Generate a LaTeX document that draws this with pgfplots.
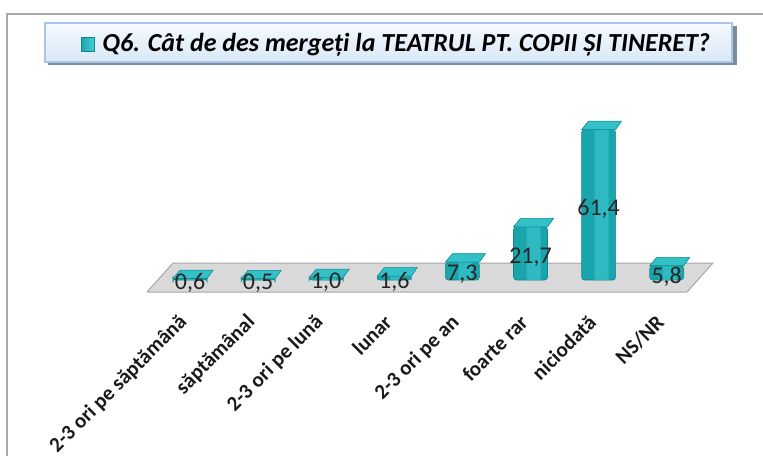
\documentclass[border=0pt]{standalone}
\usepackage{pgfplots}
\pgfplotsset{compat=1.18}
\usepackage{pgfplotstable}
\usepackage{fontspec}
\setmainfont{Carlito}
\definecolor{tealA}{HTML}{1AA5AC}
\definecolor{tealB}{HTML}{45CDD4}
\definecolor{tealE}{HTML}{0E8990}
\definecolor{tealT}{HTML}{33C0C7}
\definecolor{floorF}{HTML}{D9D9D9}
\definecolor{floorE}{HTML}{A6A6A6}
\definecolor{frameC}{HTML}{A9A9A9}
\definecolor{boxTop}{HTML}{F5FAFF}
\definecolor{boxBot}{HTML}{D9E8F7}
\definecolor{boxEdge}{HTML}{A9C6E8}
\definecolor{boxShadow}{HTML}{7D8A99}
\pgfdeclareplotmark{topface}{%
  \pgfsetcornersarced{\pgfpoint{1.5pt}{1.5pt}}%
  \pgfpathmoveto{\pgfpoint{-8.5pt}{0pt}}%
  \pgfpathlineto{\pgfpoint{8.5pt}{0pt}}%
  \pgfpathlineto{\pgfpoint{11.5pt}{4.2pt}}%
  \pgfpathlineto{\pgfpoint{-5pt}{4.2pt}}%
  \pgfpathclose
  \pgfusepathqfillstroke}
\pgfplotstableread{
x v
0 0.6
1 0.5
2 1.0
3 1.6
4 7.3
5 21.7
6 61.4
7 5.8
}\data
\begin{document}
\begin{tikzpicture}
\useasboundingbox (0,0) rectangle (381.5pt,-227.5pt);
% frame
\draw[frameC, line width=1pt] (3.5pt,-228pt) -- (3.5pt,-7pt) -- (382pt,-7pt);
% title box
\fill[boxShadow] (24pt,-13pt) rectangle (368.5pt,-32.5pt);
\shade[top color=boxTop, bottom color=boxBot, draw=boxEdge, line width=0.6pt] (22.5pt,-11.5pt) rectangle (366pt,-31pt);
\shade[left color=tealA, right color=tealB, draw=tealE, line width=0.3pt] (40.5pt,-18.5pt) rectangle (47pt,-25.5pt);
\node[anchor=base west, inner sep=0pt, font=\fontsize{13}{15}\selectfont\bfseries\itshape] at (51pt,-25.5pt) {Q6. Cât de des mergeți la TEATRUL PT. COPII ȘI TINERET?};
\begin{axis}[
  at={(20pt,-150pt)}, anchor=south west,
  scale only axis, width=350pt, height=100pt,
  xmin=-2.2026, xmax=8.0764, ymin=-8.163, ymax=73.47,
  clip=false,
  hide y axis,
  axis x line*=bottom,
  x axis line style={draw=none},
  xtick={0,...,7},
  xtick style={draw=none},
  xticklabels={2-3 ori pe săptămână,săptămânal,2-3 ori pe lună,lunar,2-3 ori pe an,foarte rar,niciodată,NS/NR},
  xticklabel style={rotate=45, anchor=east, xshift=-5.5pt, yshift=-4.5pt, font=\fontsize{10.5}{12}\selectfont\bfseries, text=black!90},
  /pgf/number format/assume math mode=true,
]
\addplot[fill=floorF, draw=floorE, line width=0.5pt] coordinates {(-0.631,-4.898) (7.298,-4.898) (7.680,6.939) (-0.250,6.939) (-0.631,-4.898)};
\addplot[ybar, bar width=17pt, bar shift=0pt, fill=tealA, draw=tealE, line width=0.3pt, rounded corners=1.5pt] table[x=x,y=v] {\data};
\addplot[ybar, bar width=7pt, bar shift=1.5pt, fill=tealB, fill opacity=0.5, draw=none] table[x=x,y=v] {\data};
\addplot[only marks, mark=topface, mark options={fill=tealT, draw=tealE, line width=0.3pt}] table[x=x,y=v] {\data};
\addplot[draw=none, mark=none, nodes near coords, point meta=explicit,
  every node near coord/.append style={anchor=center, font=\fontsize{12}{14}\selectfont, text=black!85,
    /pgf/number format/.cd, use comma, fixed, fixed zerofill, precision=1, assume math mode=true}]
  table[x=x, y expr=\thisrow{v}/2-1.5, meta=v] {\data};
\end{axis}
\end{tikzpicture}
\end{document}
